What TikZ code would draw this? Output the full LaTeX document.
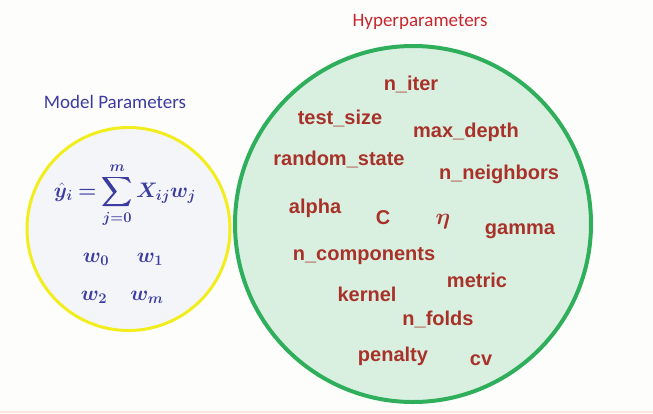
\documentclass[tikz,border=0pt]{standalone}
\usepackage{fix-cm}
\usepackage{amsmath}
\usepackage{bm}
\usepackage{fontspec}
\setmainfont{Liberation Sans}
\newfontfamily\titlefont{Carlito}
\usepackage{xcolor}

\definecolor{bgwhite}{HTML}{FDFDFB}
\definecolor{edgepink}{HTML}{FBE6DC}
\definecolor{modelblue}{HTML}{3C3CA0}
\definecolor{modelfill}{HTML}{F3F5F9}
\definecolor{yellowring}{HTML}{F2EE1E}
\definecolor{hyperred}{HTML}{C8262E}
\definecolor{paramred}{HTML}{A8322A}
\definecolor{greenring}{HTML}{2FAF5C}
\definecolor{hyperfill}{HTML}{D9F0E1}

\tikzset{
    heading/.style={font=\titlefont\fontsize{19}{23}\selectfont, inner sep=0pt},
    hyper/.style={text=paramred, font=\fontsize{20}{24}\selectfont\bfseries, inner sep=0pt},
    weight/.style={text=modelblue, font=\fontsize{21}{25}\selectfont, inner sep=0pt},
}

\begin{document}
\begin{tikzpicture}[x=1pt, y=-1pt]
    \useasboundingbox (0,0) rectangle (653,413);
    \fill[bgwhite] (0,0) rectangle (653,413);
    \fill[edgepink] (0,411) rectangle (653,413);

    % the two sets
    \draw[yellowring, line width=3pt, fill=modelfill] (128.5,229) circle[radius=101.5pt];
    \draw[greenring, line width=4pt, fill=hyperfill] (413,224) circle[radius=178pt];

    % titles
    \node[heading, text=modelblue] (model) at (115,102) {Model Parameters};
    \node[heading, text=hyperred] (hyper) at (420,22) {Hyperparameters};

    % model parameters
    \node[weight] (yhat) at (125,195)
        {$\thickmuskip=4.5mu\displaystyle \bm{\hat{y}_i = \sum_{j=0}^{m} X_{ij} w_j}$};
    \node[weight] (w0) at (96,259) {$\bm{w_0}$};
    \node[weight] (w1) at (150,259) {$\bm{w_1}$};
    \node[weight] (w2) at (94,297) {$\bm{w_2}$};
    \node[weight] (wm) at (147,297) {$\bm{w_m}$};

    % hyperparameters
    \node[hyper] (niter) at (411,84) {n\_iter};
    \node[hyper] (testsize) at (340,118) {test\_size};
    \node[hyper] (maxdepth) at (466,132) {max\_depth};
    \node[hyper] (randomstate) at (339,159) {random\_state};
    \node[hyper] (nneighbors) at (499,174) {n\_neighbors};
    \node[hyper] (alpha) at (315,208) {alpha};
    \node[hyper] (C) at (383,218) {C};
    \node[hyper, font=\fontsize{23}{26}\selectfont] (eta) at (443,222) {$\bm{\eta}$};
    \node[hyper] (gamma) at (520,231) {gamma};
    \node[hyper] (ncomponents) at (364,256) {n\_components};
    \node[hyper] (metric) at (477,280) {metric};
    \node[hyper] (kernel) at (367,294) {kernel};
    \node[hyper] (nfolds) at (438,319) {n\_folds};
    \node[hyper] (penalty) at (393,356) {penalty};
    \node[hyper] (cv) at (481,360) {cv};
\end{tikzpicture}
\end{document}
